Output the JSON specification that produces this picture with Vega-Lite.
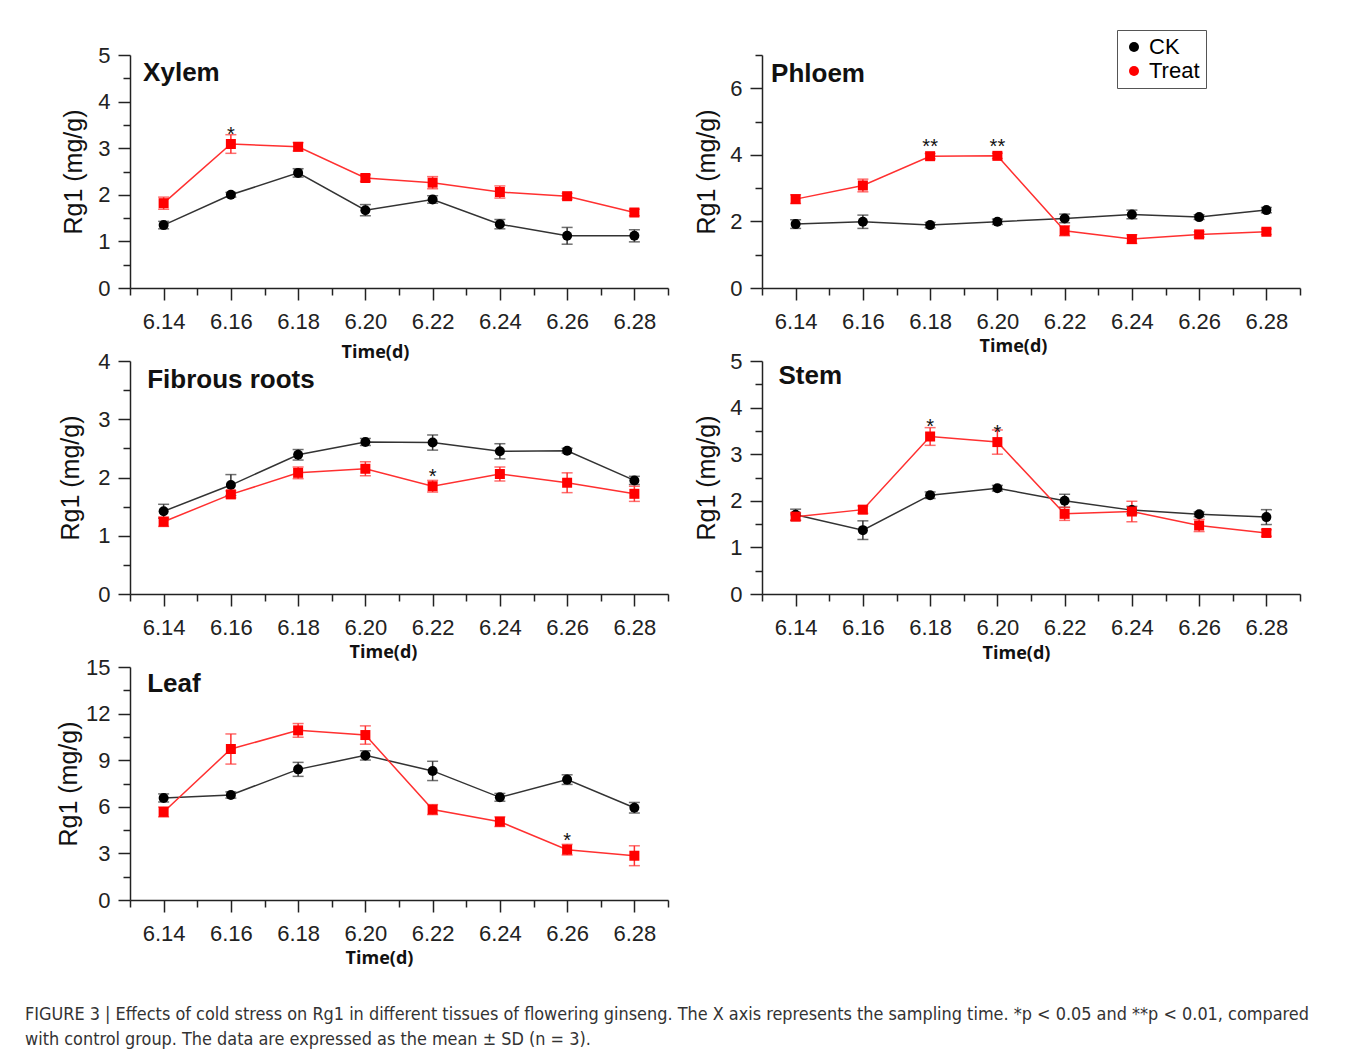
{
  "$schema": "https://vega.github.io/schema/vega-lite/v6.json",
  "background": "white",
  "padding": {"left": 25, "top": 29, "right": 0, "bottom": 0},
  "config": {
    "view": {"stroke": null},
    "font": "Liberation Sans",
    "axis": {"grid": false, "domainColor": "#222", "domainWidth": 1.5, "tickColor": "#222", "tickWidth": 1.5, "labelFont": "Liberation Sans", "labelFontSize": 22, "labelColor": "#222", "titleColor": "#111"}
  },
  "data": {"values": [
    {"tissue": "Xylem", "time": 6.14, "group": "CK", "mean": 1.35, "sd": 0.08, "sig": ""},
    {"tissue": "Xylem", "time": 6.16, "group": "CK", "mean": 2.0, "sd": 0.05, "sig": ""},
    {"tissue": "Xylem", "time": 6.18, "group": "CK", "mean": 2.47, "sd": 0.09, "sig": ""},
    {"tissue": "Xylem", "time": 6.2, "group": "CK", "mean": 1.67, "sd": 0.12, "sig": ""},
    {"tissue": "Xylem", "time": 6.22, "group": "CK", "mean": 1.9, "sd": 0.08, "sig": ""},
    {"tissue": "Xylem", "time": 6.24, "group": "CK", "mean": 1.37, "sd": 0.1, "sig": ""},
    {"tissue": "Xylem", "time": 6.26, "group": "CK", "mean": 1.12, "sd": 0.18, "sig": ""},
    {"tissue": "Xylem", "time": 6.28, "group": "CK", "mean": 1.12, "sd": 0.13, "sig": ""},
    {"tissue": "Xylem", "time": 6.14, "group": "Treat", "mean": 1.82, "sd": 0.13, "sig": ""},
    {"tissue": "Xylem", "time": 6.16, "group": "Treat", "mean": 3.09, "sd": 0.2, "sig": "*"},
    {"tissue": "Xylem", "time": 6.18, "group": "Treat", "mean": 3.03, "sd": 0.09, "sig": ""},
    {"tissue": "Xylem", "time": 6.2, "group": "Treat", "mean": 2.36, "sd": 0.07, "sig": ""},
    {"tissue": "Xylem", "time": 6.22, "group": "Treat", "mean": 2.26, "sd": 0.13, "sig": ""},
    {"tissue": "Xylem", "time": 6.24, "group": "Treat", "mean": 2.06, "sd": 0.13, "sig": ""},
    {"tissue": "Xylem", "time": 6.26, "group": "Treat", "mean": 1.97, "sd": 0.06, "sig": ""},
    {"tissue": "Xylem", "time": 6.28, "group": "Treat", "mean": 1.62, "sd": 0.07, "sig": ""},
    {"tissue": "Phloem", "time": 6.14, "group": "CK", "mean": 1.92, "sd": 0.13, "sig": ""},
    {"tissue": "Phloem", "time": 6.16, "group": "CK", "mean": 1.99, "sd": 0.2, "sig": ""},
    {"tissue": "Phloem", "time": 6.18, "group": "CK", "mean": 1.89, "sd": 0.08, "sig": ""},
    {"tissue": "Phloem", "time": 6.2, "group": "CK", "mean": 1.99, "sd": 0.08, "sig": ""},
    {"tissue": "Phloem", "time": 6.22, "group": "CK", "mean": 2.09, "sd": 0.13, "sig": ""},
    {"tissue": "Phloem", "time": 6.24, "group": "CK", "mean": 2.21, "sd": 0.13, "sig": ""},
    {"tissue": "Phloem", "time": 6.26, "group": "CK", "mean": 2.13, "sd": 0.07, "sig": ""},
    {"tissue": "Phloem", "time": 6.28, "group": "CK", "mean": 2.34, "sd": 0.08, "sig": ""},
    {"tissue": "Phloem", "time": 6.14, "group": "Treat", "mean": 2.67, "sd": 0.13, "sig": ""},
    {"tissue": "Phloem", "time": 6.16, "group": "Treat", "mean": 3.08, "sd": 0.19, "sig": ""},
    {"tissue": "Phloem", "time": 6.18, "group": "Treat", "mean": 3.96, "sd": 0.08, "sig": "**"},
    {"tissue": "Phloem", "time": 6.2, "group": "Treat", "mean": 3.97, "sd": 0.08, "sig": "**"},
    {"tissue": "Phloem", "time": 6.22, "group": "Treat", "mean": 1.72, "sd": 0.15, "sig": ""},
    {"tissue": "Phloem", "time": 6.24, "group": "Treat", "mean": 1.47, "sd": 0.13, "sig": ""},
    {"tissue": "Phloem", "time": 6.26, "group": "Treat", "mean": 1.61, "sd": 0.08, "sig": ""},
    {"tissue": "Phloem", "time": 6.28, "group": "Treat", "mean": 1.69, "sd": 0.08, "sig": ""},
    {"tissue": "Fibrous roots", "time": 6.14, "group": "CK", "mean": 1.42, "sd": 0.12, "sig": ""},
    {"tissue": "Fibrous roots", "time": 6.16, "group": "CK", "mean": 1.87, "sd": 0.18, "sig": ""},
    {"tissue": "Fibrous roots", "time": 6.18, "group": "CK", "mean": 2.39, "sd": 0.09, "sig": ""},
    {"tissue": "Fibrous roots", "time": 6.2, "group": "CK", "mean": 2.61, "sd": 0.06, "sig": ""},
    {"tissue": "Fibrous roots", "time": 6.22, "group": "CK", "mean": 2.6, "sd": 0.13, "sig": ""},
    {"tissue": "Fibrous roots", "time": 6.24, "group": "CK", "mean": 2.45, "sd": 0.13, "sig": ""},
    {"tissue": "Fibrous roots", "time": 6.26, "group": "CK", "mean": 2.46, "sd": 0.04, "sig": ""},
    {"tissue": "Fibrous roots", "time": 6.28, "group": "CK", "mean": 1.95, "sd": 0.07, "sig": ""},
    {"tissue": "Fibrous roots", "time": 6.14, "group": "Treat", "mean": 1.24, "sd": 0.08, "sig": ""},
    {"tissue": "Fibrous roots", "time": 6.16, "group": "Treat", "mean": 1.71, "sd": 0.06, "sig": ""},
    {"tissue": "Fibrous roots", "time": 6.18, "group": "Treat", "mean": 2.08, "sd": 0.1, "sig": ""},
    {"tissue": "Fibrous roots", "time": 6.2, "group": "Treat", "mean": 2.15, "sd": 0.12, "sig": ""},
    {"tissue": "Fibrous roots", "time": 6.22, "group": "Treat", "mean": 1.85, "sd": 0.1, "sig": "*"},
    {"tissue": "Fibrous roots", "time": 6.24, "group": "Treat", "mean": 2.06, "sd": 0.12, "sig": ""},
    {"tissue": "Fibrous roots", "time": 6.26, "group": "Treat", "mean": 1.91, "sd": 0.17, "sig": ""},
    {"tissue": "Fibrous roots", "time": 6.28, "group": "Treat", "mean": 1.72, "sd": 0.13, "sig": ""},
    {"tissue": "Stem", "time": 6.14, "group": "CK", "mean": 1.7, "sd": 0.12, "sig": ""},
    {"tissue": "Stem", "time": 6.16, "group": "CK", "mean": 1.37, "sd": 0.2, "sig": ""},
    {"tissue": "Stem", "time": 6.18, "group": "CK", "mean": 2.12, "sd": 0.07, "sig": ""},
    {"tissue": "Stem", "time": 6.2, "group": "CK", "mean": 2.27, "sd": 0.06, "sig": ""},
    {"tissue": "Stem", "time": 6.22, "group": "CK", "mean": 2.0, "sd": 0.14, "sig": ""},
    {"tissue": "Stem", "time": 6.24, "group": "CK", "mean": 1.8, "sd": 0.08, "sig": ""},
    {"tissue": "Stem", "time": 6.26, "group": "CK", "mean": 1.71, "sd": 0.05, "sig": ""},
    {"tissue": "Stem", "time": 6.28, "group": "CK", "mean": 1.65, "sd": 0.16, "sig": ""},
    {"tissue": "Stem", "time": 6.14, "group": "Treat", "mean": 1.66, "sd": 0.08, "sig": ""},
    {"tissue": "Stem", "time": 6.16, "group": "Treat", "mean": 1.81, "sd": 0.08, "sig": ""},
    {"tissue": "Stem", "time": 6.18, "group": "Treat", "mean": 3.38, "sd": 0.19, "sig": "*"},
    {"tissue": "Stem", "time": 6.2, "group": "Treat", "mean": 3.26, "sd": 0.26, "sig": "*"},
    {"tissue": "Stem", "time": 6.22, "group": "Treat", "mean": 1.72, "sd": 0.14, "sig": ""},
    {"tissue": "Stem", "time": 6.24, "group": "Treat", "mean": 1.77, "sd": 0.22, "sig": ""},
    {"tissue": "Stem", "time": 6.26, "group": "Treat", "mean": 1.47, "sd": 0.13, "sig": ""},
    {"tissue": "Stem", "time": 6.28, "group": "Treat", "mean": 1.31, "sd": 0.07, "sig": ""},
    {"tissue": "Leaf", "time": 6.14, "group": "CK", "mean": 6.57, "sd": 0.26, "sig": ""},
    {"tissue": "Leaf", "time": 6.16, "group": "CK", "mean": 6.76, "sd": 0.2, "sig": ""},
    {"tissue": "Leaf", "time": 6.18, "group": "CK", "mean": 8.41, "sd": 0.45, "sig": ""},
    {"tissue": "Leaf", "time": 6.2, "group": "CK", "mean": 9.31, "sd": 0.3, "sig": ""},
    {"tissue": "Leaf", "time": 6.22, "group": "CK", "mean": 8.31, "sd": 0.62, "sig": ""},
    {"tissue": "Leaf", "time": 6.24, "group": "CK", "mean": 6.61, "sd": 0.25, "sig": ""},
    {"tissue": "Leaf", "time": 6.26, "group": "CK", "mean": 7.75, "sd": 0.31, "sig": ""},
    {"tissue": "Leaf", "time": 6.28, "group": "CK", "mean": 5.94, "sd": 0.34, "sig": ""},
    {"tissue": "Leaf", "time": 6.14, "group": "Treat", "mean": 5.67, "sd": 0.32, "sig": ""},
    {"tissue": "Leaf", "time": 6.16, "group": "Treat", "mean": 9.72, "sd": 0.97, "sig": ""},
    {"tissue": "Leaf", "time": 6.18, "group": "Treat", "mean": 10.92, "sd": 0.44, "sig": ""},
    {"tissue": "Leaf", "time": 6.2, "group": "Treat", "mean": 10.62, "sd": 0.59, "sig": ""},
    {"tissue": "Leaf", "time": 6.22, "group": "Treat", "mean": 5.82, "sd": 0.32, "sig": ""},
    {"tissue": "Leaf", "time": 6.24, "group": "Treat", "mean": 5.04, "sd": 0.31, "sig": ""},
    {"tissue": "Leaf", "time": 6.26, "group": "Treat", "mean": 3.24, "sd": 0.34, "sig": "*"},
    {"tissue": "Leaf", "time": 6.28, "group": "Treat", "mean": 2.85, "sd": 0.64, "sig": ""}
  ]},
  "title": {
    "text": ["FIGURE 3 | Effects of cold stress on Rg1 in different tissues of flowering ginseng. The X axis represents the sampling time. *p < 0.05 and **p < 0.01, compared", "with control group. The data are expressed as the mean ± SD (n = 3)."],
    "orient": "bottom", "anchor": "start", "frame": "group", "dx": -105, "offset": 39,
    "font": "DejaVu Sans Condensed", "fontSize": 17.9, "fontWeight": "normal", "color": "#333", "lineHeight": 25, "baseline": "top"
  },
  "columns": 2,
  "spacing": {"row": 73, "column": 94},
  "bounds": "flush",
  "concat": [
    {
      "width": 538, "height": 233,
      "transform": [{"filter": "datum.tissue === 'Xylem'"}],
      "resolve": {"axis": {"x": "independent", "y": "independent"}},
      "layer": [
        {"transform": [{"filter": "datum.group === 'CK'"}],
         "mark": {"type": "line", "strokeWidth": 1.5, "color": "#333333"},
         "encoding": {
           "x": {"field": "time", "type": "quantitative", "scale": {"domain": [6.13, 6.29], "nice": false, "zero": false},
                 "axis": {"orient": "bottom", "values": [6.14, 6.16, 6.18, 6.2, 6.22, 6.24, 6.26, 6.28], "format": ".2f", "tickSize": 12, "labelPadding": 11, "title": "Time(d)", "titleFont": "Open Sans", "titleFontWeight": "bold", "titleFontSize": 18, "titleX": 245, "titleY": 64, "titleBaseline": "middle"}},
           "y": {"field": "mean", "type": "quantitative", "scale": {"domain": [0, 5], "nice": false},
                 "axis": {"orient": "left", "values": [0, 1, 2, 3, 4, 5], "tickSize": 12, "labelPadding": 8, "title": "Rg1 (mg/g)", "titleFontSize": 25, "titleFontWeight": "normal", "titleX": -57, "titleBaseline": "middle"}}
         }},
        {"transform": [{"filter": "datum.group === 'Treat'"}],
         "mark": {"type": "line", "strokeWidth": 1.5, "color": "#ff3030"},
         "encoding": {"x": {"field": "time", "type": "quantitative", "axis": null}, "y": {"field": "mean", "type": "quantitative", "axis": null}}},
        {"transform": [{"filter": "datum.group === 'CK'"}],
         "mark": {"type": "errorbar", "color": "#333333", "ticks": {"size": 11, "thickness": 1.5}, "thickness": 1.5},
         "encoding": {"x": {"field": "time", "type": "quantitative", "axis": null}, "y": {"field": "mean", "type": "quantitative", "axis": null}, "yError": {"field": "sd"}}},
        {"transform": [{"filter": "datum.group === 'Treat'"}],
         "mark": {"type": "errorbar", "color": "#ff3030", "ticks": {"size": 11, "thickness": 1.5}, "thickness": 1.5},
         "encoding": {"x": {"field": "time", "type": "quantitative", "axis": null}, "y": {"field": "mean", "type": "quantitative", "axis": null}, "yError": {"field": "sd"}}},
        {"transform": [{"filter": "datum.group === 'CK'"}],
         "mark": {"type": "point", "shape": "circle", "filled": true, "size": 100, "color": "#000", "opacity": 1},
         "encoding": {
           "x": {"field": "time", "type": "quantitative", "axis": {"orient": "bottom", "values": [6.13, 6.15, 6.17, 6.19, 6.21, 6.23, 6.25, 6.27, 6.29], "labels": false, "tickSize": 7, "domain": false, "title": null}},
           "y": {"field": "mean", "type": "quantitative", "axis": {"orient": "left", "values": [0.5, 1.5, 2.5, 3.5, 4.5], "labels": false, "tickSize": 7, "domain": false, "title": null}}
         }},
        {"transform": [{"filter": "datum.group === 'Treat'"}],
         "mark": {"type": "point", "shape": "square", "filled": true, "size": 100, "color": "#ff0000", "opacity": 1},
         "encoding": {"x": {"field": "time", "type": "quantitative", "axis": null}, "y": {"field": "mean", "type": "quantitative", "axis": null}}},
        {"transform": [{"filter": "datum.sig !== ''"}],
         "mark": {"type": "text", "fontSize": 20, "dy": -3, "baseline": "alphabetic", "color": "#111"},
         "encoding": {"x": {"field": "time", "type": "quantitative", "axis": null}, "y": {"field": "mean", "type": "quantitative", "axis": null}, "text": {"field": "sig"}}},
        {"data": {"values": [{"panel": "Xylem"}]},
         "mark": {"type": "text", "fontSize": 26, "fontWeight": "bold", "align": "left", "baseline": "alphabetic", "color": "#111"},
         "encoding": {"x": {"datum": 6.1339, "type": "quantitative", "axis": null}, "y": {"datum": 4.442, "type": "quantitative", "axis": null}, "text": {"field": "panel"}}}
      ]
    },
    {
      "width": 538, "height": 233,
      "transform": [{"filter": "datum.tissue === 'Phloem'"}],
      "resolve": {"axis": {"x": "independent", "y": "independent"}},
      "layer": [
        {"transform": [{"filter": "datum.group === 'CK'"}],
         "mark": {"type": "line", "strokeWidth": 1.5, "color": "#333333"},
         "encoding": {
           "x": {"field": "time", "type": "quantitative", "scale": {"domain": [6.13, 6.29], "nice": false, "zero": false},
                 "axis": {"orient": "bottom", "values": [6.14, 6.16, 6.18, 6.2, 6.22, 6.24, 6.26, 6.28], "format": ".2f", "tickSize": 12, "labelPadding": 11, "title": "Time(d)", "titleFont": "Open Sans", "titleFontWeight": "bold", "titleFontSize": 18, "titleX": 251, "titleY": 58, "titleBaseline": "middle"}},
           "y": {"field": "mean", "type": "quantitative", "scale": {"domain": [0, 7], "nice": false},
                 "axis": {"orient": "left", "values": [0, 2, 4, 6], "tickSize": 12, "labelPadding": 8, "title": "Rg1 (mg/g)", "titleFontSize": 25, "titleFontWeight": "normal", "titleX": -56, "titleBaseline": "middle"}}
         }},
        {"transform": [{"filter": "datum.group === 'Treat'"}],
         "mark": {"type": "line", "strokeWidth": 1.5, "color": "#ff3030"},
         "encoding": {"x": {"field": "time", "type": "quantitative", "axis": null}, "y": {"field": "mean", "type": "quantitative", "axis": null}}},
        {"transform": [{"filter": "datum.group === 'CK'"}],
         "mark": {"type": "errorbar", "color": "#333333", "ticks": {"size": 11, "thickness": 1.5}, "thickness": 1.5},
         "encoding": {"x": {"field": "time", "type": "quantitative", "axis": null}, "y": {"field": "mean", "type": "quantitative", "axis": null}, "yError": {"field": "sd"}}},
        {"transform": [{"filter": "datum.group === 'Treat'"}],
         "mark": {"type": "errorbar", "color": "#ff3030", "ticks": {"size": 11, "thickness": 1.5}, "thickness": 1.5},
         "encoding": {"x": {"field": "time", "type": "quantitative", "axis": null}, "y": {"field": "mean", "type": "quantitative", "axis": null}, "yError": {"field": "sd"}}},
        {"transform": [{"filter": "datum.group === 'CK'"}],
         "mark": {"type": "point", "shape": "circle", "filled": true, "size": 100, "color": "#000", "opacity": 1},
         "encoding": {
           "x": {"field": "time", "type": "quantitative", "axis": {"orient": "bottom", "values": [6.13, 6.15, 6.17, 6.19, 6.21, 6.23, 6.25, 6.27, 6.29], "labels": false, "tickSize": 7, "domain": false, "title": null}},
           "y": {"field": "mean", "type": "quantitative", "axis": {"orient": "left", "values": [1, 3, 5, 7], "labels": false, "tickSize": 7, "domain": false, "title": null}}
         }},
        {"transform": [{"filter": "datum.group === 'Treat'"}],
         "mark": {"type": "point", "shape": "square", "filled": true, "size": 100, "color": "#ff0000", "opacity": 1},
         "encoding": {"x": {"field": "time", "type": "quantitative", "axis": null}, "y": {"field": "mean", "type": "quantitative", "axis": null}}},
        {"transform": [{"filter": "datum.sig !== ''"}],
         "mark": {"type": "text", "fontSize": 20, "dy": -3, "baseline": "alphabetic", "color": "#111"},
         "encoding": {"x": {"field": "time", "type": "quantitative", "axis": null}, "y": {"field": "mean", "type": "quantitative", "axis": null}, "text": {"field": "sig"}}},
        {"data": {"values": [{"panel": "Phloem"}]},
         "mark": {"type": "text", "fontSize": 26, "fontWeight": "bold", "align": "left", "baseline": "alphabetic", "color": "#111"},
         "encoding": {"x": {"datum": 6.1327, "type": "quantitative", "axis": null}, "y": {"datum": 6.189, "type": "quantitative", "axis": null}, "text": {"field": "panel"}}},
        {"mark": {"type": "point", "filled": true, "size": 432, "opacity": 0},
         "encoding": {
           "x": {"field": "time", "type": "quantitative", "axis": null},
           "y": {"field": "mean", "type": "quantitative", "axis": null},
           "fill": {"field": "group", "type": "nominal", "scale": {"domain": ["CK", "Treat"], "range": ["#000000", "#ff0000"]},
                    "legend": {"orient": "none", "legendX": 987, "legendY": -25, "title": null, "direction": "vertical", "strokeColor": "#555", "fillColor": "white", "padding": 6, "labelFontSize": 22, "symbolOpacity": 1}}
         }}
      ]
    },
    {
      "width": 538, "height": 233,
      "transform": [{"filter": "datum.tissue === 'Fibrous roots'"}],
      "resolve": {"axis": {"x": "independent", "y": "independent"}},
      "layer": [
        {"transform": [{"filter": "datum.group === 'CK'"}],
         "mark": {"type": "line", "strokeWidth": 1.5, "color": "#333333"},
         "encoding": {
           "x": {"field": "time", "type": "quantitative", "scale": {"domain": [6.13, 6.29], "nice": false, "zero": false},
                 "axis": {"orient": "bottom", "values": [6.14, 6.16, 6.18, 6.2, 6.22, 6.24, 6.26, 6.28], "format": ".2f", "tickSize": 12, "labelPadding": 11, "title": "Time(d)", "titleFont": "Open Sans", "titleFontWeight": "bold", "titleFontSize": 18, "titleX": 253, "titleY": 58, "titleBaseline": "middle"}},
           "y": {"field": "mean", "type": "quantitative", "scale": {"domain": [0, 4], "nice": false},
                 "axis": {"orient": "left", "values": [0, 1, 2, 3, 4], "tickSize": 12, "labelPadding": 8, "title": "Rg1 (mg/g)", "titleFontSize": 25, "titleFontWeight": "normal", "titleX": -60, "titleBaseline": "middle"}}
         }},
        {"transform": [{"filter": "datum.group === 'Treat'"}],
         "mark": {"type": "line", "strokeWidth": 1.5, "color": "#ff3030"},
         "encoding": {"x": {"field": "time", "type": "quantitative", "axis": null}, "y": {"field": "mean", "type": "quantitative", "axis": null}}},
        {"transform": [{"filter": "datum.group === 'CK'"}],
         "mark": {"type": "errorbar", "color": "#333333", "ticks": {"size": 11, "thickness": 1.5}, "thickness": 1.5},
         "encoding": {"x": {"field": "time", "type": "quantitative", "axis": null}, "y": {"field": "mean", "type": "quantitative", "axis": null}, "yError": {"field": "sd"}}},
        {"transform": [{"filter": "datum.group === 'Treat'"}],
         "mark": {"type": "errorbar", "color": "#ff3030", "ticks": {"size": 11, "thickness": 1.5}, "thickness": 1.5},
         "encoding": {"x": {"field": "time", "type": "quantitative", "axis": null}, "y": {"field": "mean", "type": "quantitative", "axis": null}, "yError": {"field": "sd"}}},
        {"transform": [{"filter": "datum.group === 'CK'"}],
         "mark": {"type": "point", "shape": "circle", "filled": true, "size": 100, "color": "#000", "opacity": 1},
         "encoding": {
           "x": {"field": "time", "type": "quantitative", "axis": {"orient": "bottom", "values": [6.13, 6.15, 6.17, 6.19, 6.21, 6.23, 6.25, 6.27, 6.29], "labels": false, "tickSize": 7, "domain": false, "title": null}},
           "y": {"field": "mean", "type": "quantitative", "axis": {"orient": "left", "values": [0.5, 1.5, 2.5, 3.5], "labels": false, "tickSize": 7, "domain": false, "title": null}}
         }},
        {"transform": [{"filter": "datum.group === 'Treat'"}],
         "mark": {"type": "point", "shape": "square", "filled": true, "size": 100, "color": "#ff0000", "opacity": 1},
         "encoding": {"x": {"field": "time", "type": "quantitative", "axis": null}, "y": {"field": "mean", "type": "quantitative", "axis": null}}},
        {"transform": [{"filter": "datum.sig !== ''"}],
         "mark": {"type": "text", "fontSize": 20, "dy": -3, "baseline": "alphabetic", "color": "#111"},
         "encoding": {"x": {"field": "time", "type": "quantitative", "axis": null}, "y": {"field": "mean", "type": "quantitative", "axis": null}, "text": {"field": "sig"}}},
        {"data": {"values": [{"panel": "Fibrous roots"}]},
         "mark": {"type": "text", "fontSize": 26, "fontWeight": "bold", "align": "left", "baseline": "alphabetic", "color": "#111"},
         "encoding": {"x": {"datum": 6.1351, "type": "quantitative", "axis": null}, "y": {"datum": 3.542, "type": "quantitative", "axis": null}, "text": {"field": "panel"}}}
      ]
    },
    {
      "width": 538, "height": 233,
      "transform": [{"filter": "datum.tissue === 'Stem'"}],
      "resolve": {"axis": {"x": "independent", "y": "independent"}},
      "layer": [
        {"transform": [{"filter": "datum.group === 'CK'"}],
         "mark": {"type": "line", "strokeWidth": 1.5, "color": "#333333"},
         "encoding": {
           "x": {"field": "time", "type": "quantitative", "scale": {"domain": [6.13, 6.29], "nice": false, "zero": false},
                 "axis": {"orient": "bottom", "values": [6.14, 6.16, 6.18, 6.2, 6.22, 6.24, 6.26, 6.28], "format": ".2f", "tickSize": 12, "labelPadding": 11, "title": "Time(d)", "titleFont": "Open Sans", "titleFontWeight": "bold", "titleFontSize": 18, "titleX": 254, "titleY": 59, "titleBaseline": "middle"}},
           "y": {"field": "mean", "type": "quantitative", "scale": {"domain": [0, 5], "nice": false},
                 "axis": {"orient": "left", "values": [0, 1, 2, 3, 4, 5], "tickSize": 12, "labelPadding": 8, "title": "Rg1 (mg/g)", "titleFontSize": 25, "titleFontWeight": "normal", "titleX": -56, "titleBaseline": "middle"}}
         }},
        {"transform": [{"filter": "datum.group === 'Treat'"}],
         "mark": {"type": "line", "strokeWidth": 1.5, "color": "#ff3030"},
         "encoding": {"x": {"field": "time", "type": "quantitative", "axis": null}, "y": {"field": "mean", "type": "quantitative", "axis": null}}},
        {"transform": [{"filter": "datum.group === 'CK'"}],
         "mark": {"type": "errorbar", "color": "#333333", "ticks": {"size": 11, "thickness": 1.5}, "thickness": 1.5},
         "encoding": {"x": {"field": "time", "type": "quantitative", "axis": null}, "y": {"field": "mean", "type": "quantitative", "axis": null}, "yError": {"field": "sd"}}},
        {"transform": [{"filter": "datum.group === 'Treat'"}],
         "mark": {"type": "errorbar", "color": "#ff3030", "ticks": {"size": 11, "thickness": 1.5}, "thickness": 1.5},
         "encoding": {"x": {"field": "time", "type": "quantitative", "axis": null}, "y": {"field": "mean", "type": "quantitative", "axis": null}, "yError": {"field": "sd"}}},
        {"transform": [{"filter": "datum.group === 'CK'"}],
         "mark": {"type": "point", "shape": "circle", "filled": true, "size": 100, "color": "#000", "opacity": 1},
         "encoding": {
           "x": {"field": "time", "type": "quantitative", "axis": {"orient": "bottom", "values": [6.13, 6.15, 6.17, 6.19, 6.21, 6.23, 6.25, 6.27, 6.29], "labels": false, "tickSize": 7, "domain": false, "title": null}},
           "y": {"field": "mean", "type": "quantitative", "axis": {"orient": "left", "values": [0.5, 1.5, 2.5, 3.5, 4.5], "labels": false, "tickSize": 7, "domain": false, "title": null}}
         }},
        {"transform": [{"filter": "datum.group === 'Treat'"}],
         "mark": {"type": "point", "shape": "square", "filled": true, "size": 100, "color": "#ff0000", "opacity": 1},
         "encoding": {"x": {"field": "time", "type": "quantitative", "axis": null}, "y": {"field": "mean", "type": "quantitative", "axis": null}}},
        {"transform": [{"filter": "datum.sig !== ''"}],
         "mark": {"type": "text", "fontSize": 20, "dy": -3, "baseline": "alphabetic", "color": "#111"},
         "encoding": {"x": {"field": "time", "type": "quantitative", "axis": null}, "y": {"field": "mean", "type": "quantitative", "axis": null}, "text": {"field": "sig"}}},
        {"data": {"values": [{"panel": "Stem"}]},
         "mark": {"type": "text", "fontSize": 26, "fontWeight": "bold", "align": "left", "baseline": "alphabetic", "color": "#111"},
         "encoding": {"x": {"datum": 6.1349, "type": "quantitative", "axis": null}, "y": {"datum": 4.506, "type": "quantitative", "axis": null}, "text": {"field": "panel"}}}
      ]
    },
    {
      "width": 538, "height": 233,
      "transform": [{"filter": "datum.tissue === 'Leaf'"}],
      "resolve": {"axis": {"x": "independent", "y": "independent"}},
      "layer": [
        {"transform": [{"filter": "datum.group === 'CK'"}],
         "mark": {"type": "line", "strokeWidth": 1.5, "color": "#333333"},
         "encoding": {
           "x": {"field": "time", "type": "quantitative", "scale": {"domain": [6.13, 6.29], "nice": false, "zero": false},
                 "axis": {"orient": "bottom", "values": [6.14, 6.16, 6.18, 6.2, 6.22, 6.24, 6.26, 6.28], "format": ".2f", "tickSize": 12, "labelPadding": 11, "title": "Time(d)", "titleFont": "Open Sans", "titleFontWeight": "bold", "titleFontSize": 18, "titleX": 249, "titleY": 58, "titleBaseline": "middle"}},
           "y": {"field": "mean", "type": "quantitative", "scale": {"domain": [0, 15], "nice": false},
                 "axis": {"orient": "left", "values": [0, 3, 6, 9, 12, 15], "tickSize": 12, "labelPadding": 8, "title": "Rg1 (mg/g)", "titleFontSize": 25, "titleFontWeight": "normal", "titleX": -62, "titleBaseline": "middle"}}
         }},
        {"transform": [{"filter": "datum.group === 'Treat'"}],
         "mark": {"type": "line", "strokeWidth": 1.5, "color": "#ff3030"},
         "encoding": {"x": {"field": "time", "type": "quantitative", "axis": null}, "y": {"field": "mean", "type": "quantitative", "axis": null}}},
        {"transform": [{"filter": "datum.group === 'CK'"}],
         "mark": {"type": "errorbar", "color": "#333333", "ticks": {"size": 11, "thickness": 1.5}, "thickness": 1.5},
         "encoding": {"x": {"field": "time", "type": "quantitative", "axis": null}, "y": {"field": "mean", "type": "quantitative", "axis": null}, "yError": {"field": "sd"}}},
        {"transform": [{"filter": "datum.group === 'Treat'"}],
         "mark": {"type": "errorbar", "color": "#ff3030", "ticks": {"size": 11, "thickness": 1.5}, "thickness": 1.5},
         "encoding": {"x": {"field": "time", "type": "quantitative", "axis": null}, "y": {"field": "mean", "type": "quantitative", "axis": null}, "yError": {"field": "sd"}}},
        {"transform": [{"filter": "datum.group === 'CK'"}],
         "mark": {"type": "point", "shape": "circle", "filled": true, "size": 100, "color": "#000", "opacity": 1},
         "encoding": {
           "x": {"field": "time", "type": "quantitative", "axis": {"orient": "bottom", "values": [6.13, 6.15, 6.17, 6.19, 6.21, 6.23, 6.25, 6.27, 6.29], "labels": false, "tickSize": 7, "domain": false, "title": null}},
           "y": {"field": "mean", "type": "quantitative", "axis": {"orient": "left", "values": [1.5, 4.5, 7.5, 10.5, 13.5], "labels": false, "tickSize": 7, "domain": false, "title": null}}
         }},
        {"transform": [{"filter": "datum.group === 'Treat'"}],
         "mark": {"type": "point", "shape": "square", "filled": true, "size": 100, "color": "#ff0000", "opacity": 1},
         "encoding": {"x": {"field": "time", "type": "quantitative", "axis": null}, "y": {"field": "mean", "type": "quantitative", "axis": null}}},
        {"transform": [{"filter": "datum.sig !== ''"}],
         "mark": {"type": "text", "fontSize": 20, "dy": -3, "baseline": "alphabetic", "color": "#111"},
         "encoding": {"x": {"field": "time", "type": "quantitative", "axis": null}, "y": {"field": "mean", "type": "quantitative", "axis": null}, "text": {"field": "sig"}}},
        {"data": {"values": [{"panel": "Leaf"}]},
         "mark": {"type": "text", "fontSize": 26, "fontWeight": "bold", "align": "left", "baseline": "alphabetic", "color": "#111"},
         "encoding": {"x": {"datum": 6.1351, "type": "quantitative", "axis": null}, "y": {"datum": 13.37, "type": "quantitative", "axis": null}, "text": {"field": "panel"}}}
      ]
    }
  ]
}
